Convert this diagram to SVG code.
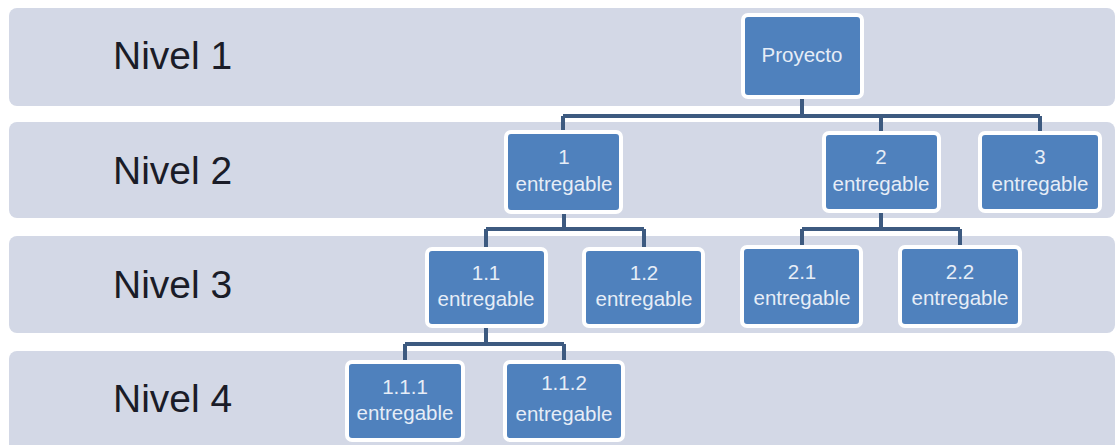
<svg xmlns="http://www.w3.org/2000/svg" width="1118" height="445" viewBox="0 0 1118 445">
<style>
.band{fill:#d3d8e6}
.lvl{font-family:"Liberation Sans",Arial,sans-serif;font-size:39px;fill:#1a1c28}
.node rect{fill:#4f81bd;stroke:#ffffff;stroke-width:4}
.node text{font-family:"Liberation Sans",Arial,sans-serif;font-size:20.5px;fill:#e6edf7;text-anchor:middle}
.conn path{fill:none;stroke:#3d5a80;stroke-width:4}
</style>
<rect width="1118" height="445" fill="#ffffff"/>
<g id="bands">
<rect class="band" x="9" y="8" width="1106" height="98" rx="8"/>
<rect class="band" x="9" y="122" width="1106" height="96" rx="8"/>
<rect class="band" x="9" y="236" width="1106" height="97" rx="8"/>
<rect class="band" x="9" y="351" width="1106" height="104" rx="8"/>
<text class="lvl" x="113" y="69">Nivel 1</text>
<text class="lvl" x="113" y="184">Nivel 2</text>
<text class="lvl" x="113" y="298">Nivel 3</text>
<text class="lvl" x="113" y="412">Nivel 4</text>
</g>
<g id="connectors" class="conn">
<path d="M802,97 V116 M563,116 H1040 M563,116 V132 M881,116 V133 M1040,116 V133"/>
<path d="M564,212 V229 M486,229 H644 M486,229 V249 M644,229 V249"/>
<path d="M881,211 V229 M802,229 H960 M802,229 V247 M960,229 V247"/>
<path d="M486,326 V344 M405,344 H564 M405,344 V362 M564,344 V362"/>
</g>
<g id="n-proyecto" class="node"><rect x="743" y="15" width="119" height="82" rx="5"/><text x="802" y="62">Proyecto</text></g>
<g id="n-1" class="node"><rect x="506" y="132" width="115" height="80" rx="5"/><text x="564" y="164">1</text><text x="564" y="191">entregable</text></g>
<g id="n-2" class="node"><rect x="824" y="133" width="115" height="78" rx="5"/><text x="881" y="164">2</text><text x="881" y="191">entregable</text></g>
<g id="n-3" class="node"><rect x="980" y="133" width="120" height="78" rx="5"/><text x="1040" y="164">3</text><text x="1040" y="191">entregable</text></g>
<g id="n-1-1" class="node"><rect x="427" y="249" width="119" height="77" rx="5"/><text x="486" y="280">1.1</text><text x="486" y="306">entregable</text></g>
<g id="n-1-2" class="node"><rect x="584" y="249" width="119" height="77" rx="5"/><text x="644" y="280">1.2</text><text x="644" y="306">entregable</text></g>
<g id="n-2-1" class="node"><rect x="742" y="247" width="119" height="79" rx="5"/><text x="802" y="279">2.1</text><text x="802" y="305">entregable</text></g>
<g id="n-2-2" class="node"><rect x="900" y="247" width="120" height="79" rx="5"/><text x="960" y="279">2.2</text><text x="960" y="305">entregable</text></g>
<g id="n-1-1-1" class="node"><rect x="347" y="362" width="116" height="78" rx="5"/><text x="405" y="394">1.1.1</text><text x="405" y="420">entregable</text></g>
<g id="n-1-1-2" class="node"><rect x="505" y="362" width="118" height="78" rx="5"/><text x="564" y="390">1.1.2</text><text x="564" y="421">entregable</text></g>
</svg>
